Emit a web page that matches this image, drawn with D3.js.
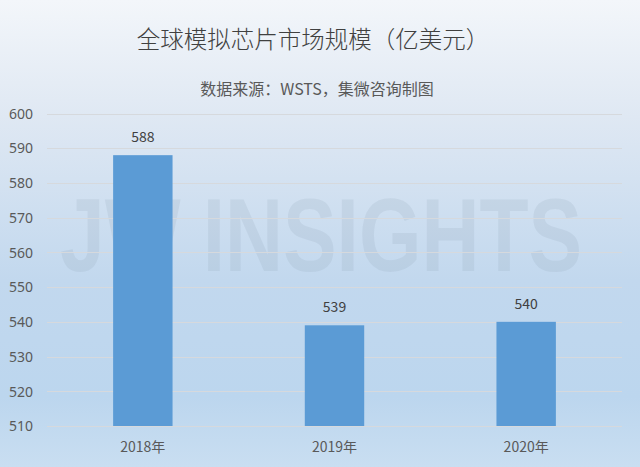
<!DOCTYPE html>
<html><head><meta charset="utf-8">
<script src="https://cdn.jsdelivr.net/npm/d3@7/dist/d3.min.js"></script>
<style>body{margin:0;padding:0;overflow:hidden}svg{display:block}</style>
</head><body>
<script>
const categories = ["2018年", "2019年", "2020年"];
const values = [588, 539, 540];
const yTicks = [510, 520, 530, 540, 550, 560, 570, 580, 590, 600];
const title = "全球模拟芯片市场规模（亿美元）";
const subtitle = "数据来源：WSTS，集微咨询制图";

const W = 640, H = 467;
const svg = d3.select("body").append("svg").attr("width", W).attr("height", H);

const defs = svg.append("defs");
const grad = defs.append("linearGradient").attr("id", "bg").attr("x1", 0).attr("y1", 0).attr("x2", 0).attr("y2", 1);
grad.append("stop").attr("offset", "0%").attr("stop-color", "#f3f6fa");
grad.append("stop").attr("offset", "25%").attr("stop-color", "#dfe8f3");
grad.append("stop").attr("offset", "60%").attr("stop-color", "#c2d8ee");
grad.append("stop").attr("offset", "85%").attr("stop-color", "#bcd6ee");
grad.append("stop").attr("offset", "100%").attr("stop-color", "#c9def1");
svg.append("rect").attr("width", W).attr("height", H).attr("fill", "url(#bg)");

const x = d3.scaleBand().domain(categories).range([47, 622]).paddingInner(0.69).paddingOuter(0.345);
const y = d3.scaleLinear().domain([510, 600]).range([426, 113.5]);

// watermark
svg.append("text").attr("x", 60).attr("y", 271)
  .attr("font-family", "Liberation Sans, Arial, sans-serif").attr("font-weight", "bold")
  .attr("font-size", 104).attr("textLength", 522).attr("lengthAdjust", "spacingAndGlyphs")
  .attr("fill", "#8a9bb0").attr("fill-opacity", 0.16).text("JW INSIGHTS");

// gridlines
svg.append("g").selectAll("line").data(yTicks).join("line")
  .attr("x1", 47).attr("x2", 622)
  .attr("y1", d => Math.round(y(d)) + 0.5).attr("y2", d => Math.round(y(d)) + 0.5)
  .attr("stroke", "#d6d9dd").attr("stroke-width", 1);

// bars
svg.append("g").selectAll("rect").data(values).join("rect")
  .attr("x", (d, i) => x(categories[i]))
  .attr("width", x.bandwidth())
  .attr("y", d => y(d))
  .attr("height", d => y(510) - y(d))
  .attr("fill", "#5b9bd5");

// value labels
svg.append("g").selectAll("text").data(values).join("text")
  .attr("x", (d, i) => x(categories[i]) + x.bandwidth() / 2)
  .attr("y", d => y(d) - 13)
  .attr("text-anchor", "middle")
  .attr("font-family", "Noto Sans CJK SC, Noto Sans, sans-serif")
  .attr("font-size", 14).attr("fill", "#404040").text(d => d);

// y axis
const yAxis = d3.axisLeft(y).tickValues(yTicks).tickSize(0).tickPadding(0);
const gy = svg.append("g").attr("transform", "translate(33,0)").call(yAxis);
gy.select(".domain").remove();
gy.selectAll("text").attr("font-family", "Noto Sans, Liberation Sans, sans-serif")
  .attr("font-size", 14).attr("fill", "#595959").attr("dy", "0.34em");

// x axis
const xAxis = d3.axisBottom(x).tickSize(0).tickPadding(0);
const gx = svg.append("g").attr("transform", "translate(0,442)").call(xAxis);
gx.select(".domain").remove();
gx.selectAll("text").attr("font-family", "Noto Sans CJK SC, sans-serif")
  .attr("font-size", 14).attr("fill", "#595959").attr("dy", "0.7em");

// titles
svg.append("text").attr("x", 313).attr("y", 48).attr("text-anchor", "middle")
  .attr("font-family", "Noto Sans CJK SC, sans-serif").attr("font-size", 23.5)
  .attr("font-weight", 300).attr("fill", "#404040").text(title);
svg.append("text").attr("x", 317).attr("y", 95).attr("text-anchor", "middle")
  .attr("font-family", "Noto Sans CJK SC, sans-serif").attr("font-size", 16)
  .attr("fill", "#595959").text(subtitle);
</script>
</body></html>
